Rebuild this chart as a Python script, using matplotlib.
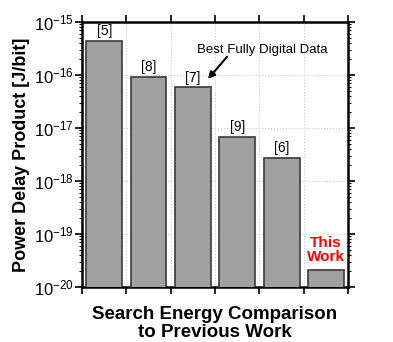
import matplotlib
matplotlib.use("Agg")
import matplotlib.pyplot as plt
from matplotlib.ticker import LogLocator, NullFormatter, FixedLocator

plt.rcParams['font.family'] = ['Liberation Sans', 'DejaVu Sans']
plt.rcParams['mathtext.fontset'] = 'custom'
plt.rcParams['mathtext.rm'] = 'Liberation Sans'
plt.rcParams['mathtext.it'] = 'Liberation Sans'
plt.rcParams['mathtext.default'] = 'regular'

refs = ['[5]', '[8]', '[7]', '[9]', '[6]', '']
pdp = [4.4e-16, 9.3e-17, 5.85e-17, 6.9e-18, 2.7e-18, 2.0e-20]
decades = [1e-20, 1e-19, 1e-18, 1e-17, 1e-16, 1e-15]
dec_labels = ['$10^{-20}$', '$10^{-19}$', '$10^{-18}$', '$10^{-17}$', '$10^{-16}$', '$10^{-15}$']

fig = plt.figure(figsize=(3.93, 3.42), dpi=100)
ax = fig.add_axes([0.2087, 0.1608, 0.677, 0.775])

x = list(range(len(pdp)))
ax.bar(x, pdp, width=0.81, bottom=1e-21, color='#a0a0a0', edgecolor='#3a3a3a',
       linewidth=1.2, zorder=3)

ax.set_yscale('log')
ax.set_ylim(1e-20, 1e-15)
ax.set_xlim(-0.5, 5.5)

ax.yaxis.set_major_locator(FixedLocator(decades))
ax.set_yticklabels(dec_labels, fontsize=12)
ax.yaxis.set_minor_locator(LogLocator(base=10, subs=range(2, 10), numticks=20))
ax.yaxis.set_minor_formatter(NullFormatter())

ax.xaxis.set_major_locator(FixedLocator([i + 0.5 for i in range(-1, 6)]))
ax.set_xticklabels([])

ax.tick_params(which='both', direction='out', top=True, right=True, width=1.2)
ax.tick_params(which='major', length=5, pad=1)
ax.tick_params(which='minor', length=2.5, width=0.8)
for s in ax.spines.values():
    s.set_linewidth(1.8)

ax.grid(True, which='major', linestyle=':', color='#c8c8ee', linewidth=0.8, zorder=0)

for xi, v, r in zip(x, pdp, refs):
    if r:
        ax.annotate(r, (xi, v), xytext=(0, 2), textcoords='offset points',
                    ha='center', va='bottom', fontsize=10)

ax.annotate('This\nWork', (5, pdp[5]), xytext=(0, 5), textcoords='offset points',
            color='red', fontweight='bold', fontsize=11,
            ha='center', va='bottom', linespacing=1.05)

ax.text(3.57, 2.9e-16, 'Best Fully Digital Data', ha='center', va='center', fontsize=9.5)
ax.annotate('', xy=(2.34, 8.4e-17), xytext=(2.77, 2.2e-16),
            arrowprops=dict(arrowstyle='-|>', color='black', lw=1.5,
                            mutation_scale=10, shrinkA=0, shrinkB=0))

ax.set_ylabel('Power Delay Product [J/bit]', fontsize=13, fontweight='bold', labelpad=3)
ax.set_xlabel('Search Energy Comparison\nto Previous Work', fontsize=13.5,
              fontweight='bold', labelpad=8, linespacing=1.05)

fig.savefig('out.png', dpi=100)
